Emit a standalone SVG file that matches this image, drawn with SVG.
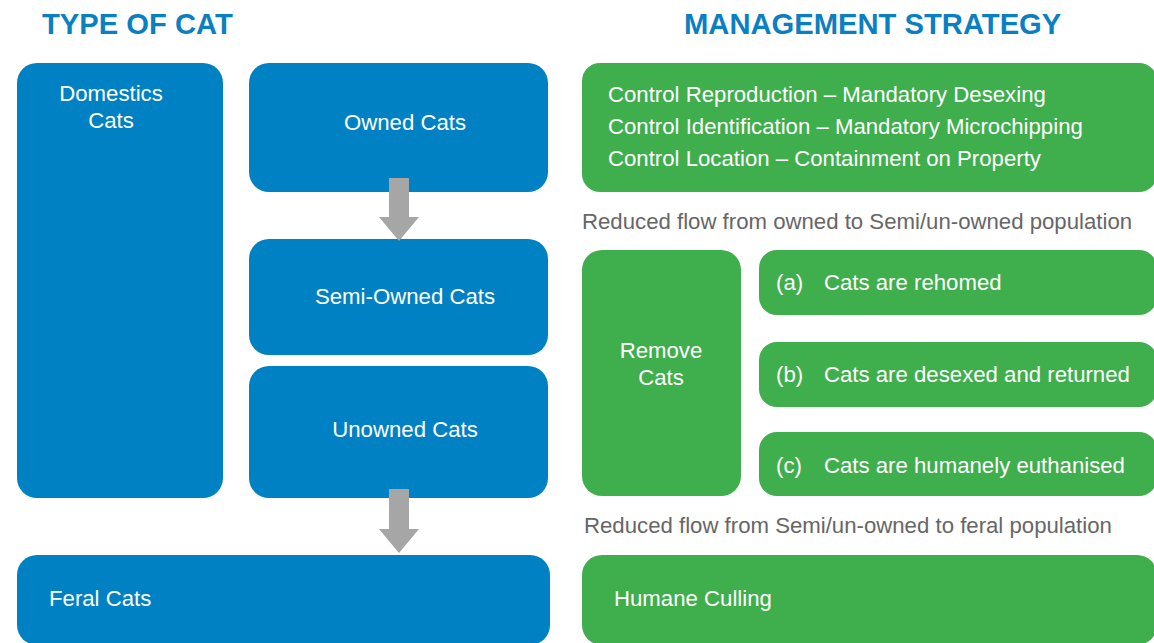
<svg xmlns="http://www.w3.org/2000/svg" width="1154" height="643" viewBox="0 0 1154 643">
<style>
.hdr{font-family:"Liberation Sans",Arial,sans-serif;font-weight:bold;font-size:29.2px;fill:#0a7fc1}
.blue{fill:#0081c3}
.green{fill:#3fae4c}
.t{font-family:"Liberation Sans",Arial,sans-serif;font-size:22.2px;fill:#ffffff}
.g{font-family:"Liberation Sans",Arial,sans-serif;font-size:22.2px;fill:#666666}
.arrow{fill:#a6a6a6}
</style>
<text class="hdr" x="42" y="34">TYPE OF CAT</text>
<text class="hdr" x="684" y="34">MANAGEMENT STRATEGY</text>

<g id="domestic"><rect class="blue" x="17" y="63" width="206" height="435" rx="20"/>
<text class="t" x="111" y="101" text-anchor="middle">Domestics</text>
<text class="t" x="111" y="128" text-anchor="middle">Cats</text></g>
<g id="owned"><rect class="blue" x="249" y="63" width="299" height="129" rx="20"/>
<text class="t" x="405" y="130" text-anchor="middle">Owned Cats</text></g>
<g id="semi"><rect class="blue" x="249" y="239" width="299" height="116" rx="20"/>
<text class="t" x="405" y="304" text-anchor="middle">Semi-Owned Cats</text></g>
<g id="unowned"><rect class="blue" x="249" y="366" width="299" height="132" rx="20"/>
<text class="t" x="405" y="437" text-anchor="middle">Unowned Cats</text></g>
<g id="feral"><rect class="blue" x="17" y="555" width="533" height="90" rx="20"/>
<text class="t" x="49" y="606">Feral Cats</text></g>

<g id="connectors">
<path class="arrow" d="M389 178 H409 V217 H419 L399 241 L379 217 H389 Z"/>
<path class="arrow" d="M389 489 H409 V529 H419 L399 553 L379 529 H389 Z"/>
</g>

<g id="control"><rect class="green" x="582" y="63" width="575" height="129" rx="18"/>
<text class="t" x="608" y="102">Control Reproduction – Mandatory Desexing</text>
<text class="t" x="608" y="134">Control Identification – Mandatory Microchipping</text>
<text class="t" x="608" y="166">Control Location – Containment on Property</text></g>
<text class="g" x="582" y="229">Reduced flow from owned to Semi/un-owned population</text>
<g id="remove"><rect class="green" x="582" y="250" width="159" height="246" rx="20"/>
<text class="t" x="661" y="358" text-anchor="middle">Remove</text>
<text class="t" x="661" y="385" text-anchor="middle">Cats</text></g>
<g id="a"><rect class="green" x="759" y="250" width="398" height="65" rx="18"/>
<text class="t" x="776" y="290">(a)</text><text class="t" x="824" y="290">Cats are rehomed</text></g>
<g id="b"><rect class="green" x="759" y="342" width="398" height="65" rx="18"/>
<text class="t" x="776" y="382">(b)</text><text class="t" x="824" y="382">Cats are desexed and returned</text></g>
<g id="c"><rect class="green" x="759" y="432" width="398" height="64" rx="18"/>
<text class="t" x="776" y="473">(c)</text><text class="t" x="824" y="473">Cats are humanely euthanised</text></g>
<text class="g" x="584" y="533">Reduced flow from Semi/un-owned to feral population</text>
<g id="culling"><rect class="green" x="582" y="555" width="575" height="90" rx="20"/>
<text class="t" x="614" y="606">Humane Culling</text></g>
</svg>
